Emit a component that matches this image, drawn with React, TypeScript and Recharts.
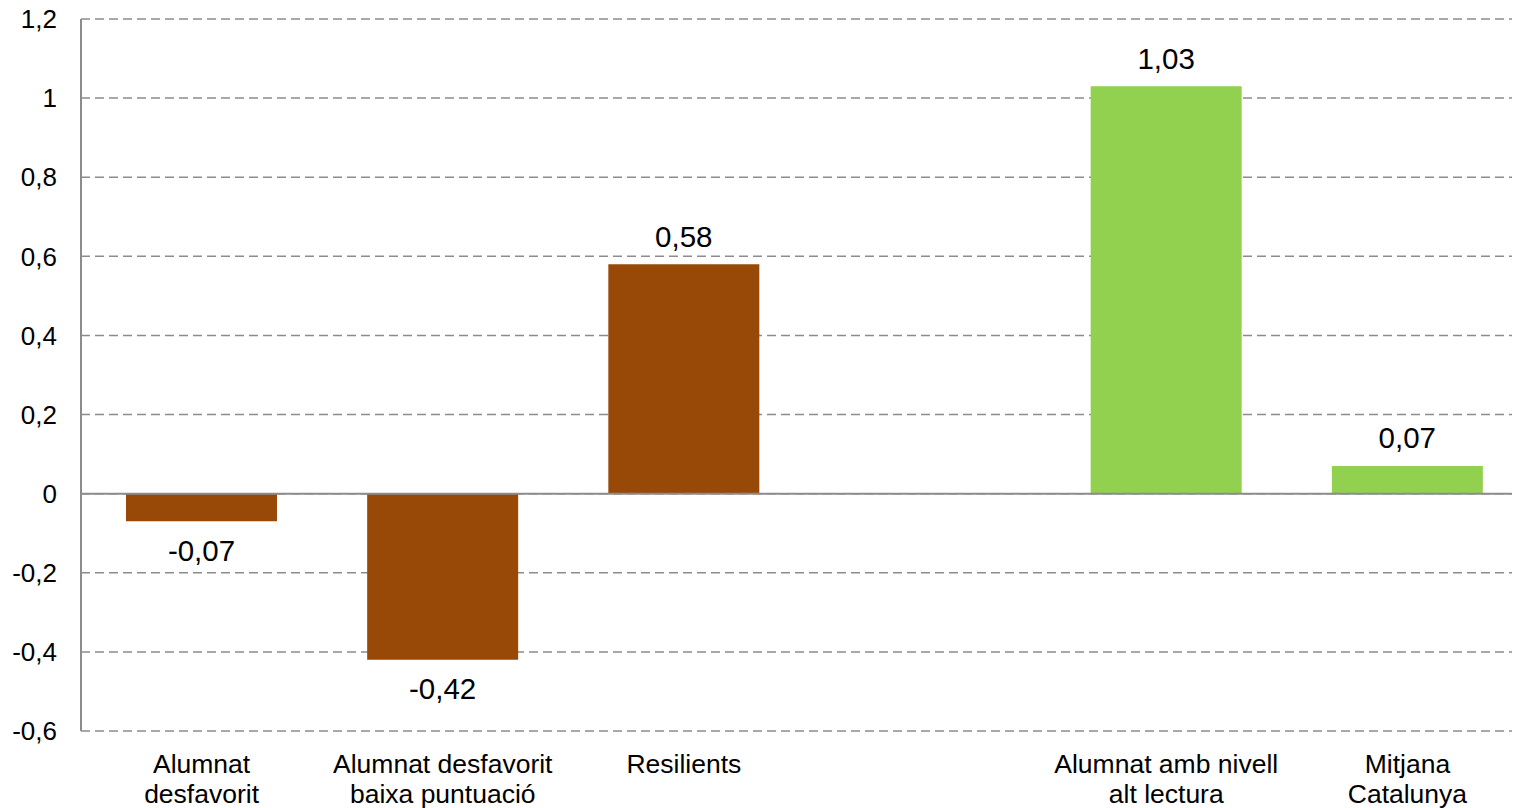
import { BarChart, Bar, XAxis, YAxis, CartesianGrid, ReferenceLine, Cell, LabelList } from 'recharts'

const categories = ['Alumnat desfavorit', 'Alumnat desfavorit baixa puntuació', 'Resilients', ' ', 'Alumnat amb nivell alt lectura', 'Mitjana Catalunya']
const tickLines = [['Alumnat', 'desfavorit'], ['Alumnat desfavorit', 'baixa puntuació'], ['Resilients'], [], ['Alumnat amb nivell', 'alt lectura'], ['Mitjana', 'Catalunya']]
const values: (number | null)[] = [-0.07, -0.42, 0.58, null, 1.03, 0.07]
const colors = ['#984807', '#984807', '#984807', '#984807', '#92D050', '#92D050']
const yTicks = [-0.6, -0.4, -0.2, 0, 0.2, 0.4, 0.6, 0.8, 1, 1.2]

const data = categories.map((name, i) => ({ name, value: values[i], idx: i }))

const fmt = (v: number) => String(v).replace('.', ',')
const font = '"Liberation Sans", Arial, sans-serif'

function XTick({ x, y, index }: any) {
  const lines = tickLines[index] || []
  return (
    <g>
      {lines.map((l, i) => (
        <text key={i} x={x} y={y + 31 + i * 30} textAnchor="middle" dominantBaseline="central"
          fontSize={26.5} fontFamily={font} fill="#000">{l}</text>
      ))}
    </g>
  )
}

function ValueLabel({ x, y, width, height, value }: any) {
  if (value == null) return null
  const top = Math.min(y, y + height)
  const bottom = Math.max(y, y + height)
  const ty = value >= 0 ? top - 28 : bottom + 29
  return (
    <text x={x + width / 2} y={ty} textAnchor="middle" dominantBaseline="central"
      fontSize={29.5} fontFamily={font} fill="#000">{fmt(value)}</text>
  )
}

export default function App() {
  return (
    <div style={{ position: 'absolute', left: 0, top: 0, width: 1517, height: 808, background: '#fff', overflow: 'hidden' }}>
      <BarChart width={1517} height={808} data={data} margin={{ top: 19, right: 5, bottom: 0, left: 0 }}>
        <CartesianGrid vertical={false} stroke="#8c8c8c" strokeDasharray="9 5" strokeWidth={1.5} />
        <XAxis dataKey="name" height={77} axisLine={false} tickLine={false} tickSize={0} interval={0}
          padding={{ left: 0, right: -16 }} tick={<XTick />} />
        <YAxis domain={[-0.6, 1.2]} ticks={yTicks} width={81} tickFormatter={fmt}
          axisLine={{ stroke: '#8c8c8c', strokeWidth: 2 }} tickLine={false} tickSize={0} tickMargin={24}
          tick={{ fontSize: 26, fontFamily: font, fill: '#000' }} />
        <ReferenceLine y={0} stroke="#8c8c8c" strokeWidth={2} />
        <Bar dataKey="value" barSize={151} isAnimationActive={false}>
          {data.map((d) => <Cell key={d.idx} fill={colors[d.idx]} />)}
          <LabelList dataKey="value" content={<ValueLabel />} />
        </Bar>
      </BarChart>
    </div>
  )
}
